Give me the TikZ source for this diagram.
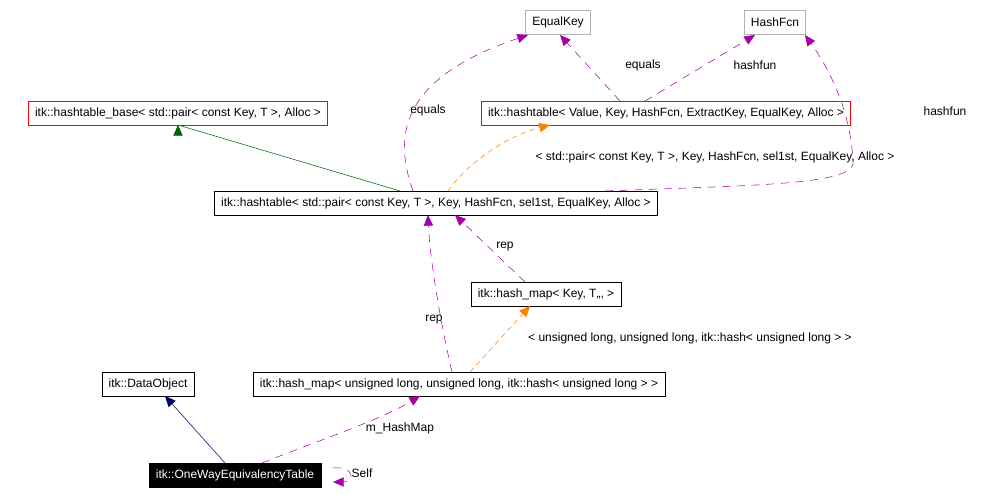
\documentclass[tikz,border=0pt]{standalone}
\usepackage{fontspec}
\setmainfont{Liberation Sans}
\usetikzlibrary{arrows.meta}
\begin{document}
\begin{tikzpicture}[x=0.75pt,y=-0.75pt,
  box/.style={draw=black,fill=white,minimum height=18pt,inner xsep=5pt,font=\fontsize{9}{10}\selectfont},
  gbox/.style={box,draw=gray!60},
  rbox/.style={box,draw=red},
  tip/.style={-{Triangle[length=8pt,width=7pt]}},
  uses/.style={tip,draw=violet!80!magenta,dash pattern=on 6pt off 5pt,color=violet!70!magenta},
  tmpl/.style={tip,draw=orange,dash pattern=on 4pt off 3pt,color=orange},
  lab/.style={font=\fontsize{9}{10}\selectfont}]
\useasboundingbox (0,0) rectangle (983,495);
\node[gbox] (ek) at (558,22) {EqualKey};
\node[gbox] (hf) at (775,22) {HashFcn};
\node[rbox] (base) at (178,113) {itk::hashtable\_base< std::pair< const Key, T >, Alloc >};
\node[rbox] (ht) at (666,113) {itk::hashtable< Value, Key, HashFcn, ExtractKey, EqualKey, Alloc >};
\node[box] (pair) at (436,203) {itk::hashtable< std::pair< const Key, T >, Key, HashFcn, sel1st, EqualKey, Alloc >};
\node[box] (hmk) at (546,294) {itk::hash\_map< Key, T,,, >};
\node[box] (dobj) at (148,384) {itk::DataObject};
\node[box] (hmu) at (459,384) {itk::hash\_map< unsigned long, unsigned long, itk::hash< unsigned long > >};
\node[box,fill=black,text=white] (ow) at (235,475) {itk::OneWayEquivalencyTable};

\draw[tip,draw=green!40!black,color=green!40!black] (400,191) -- (base.south |- 0,125) ++(0,0) coordinate (bt);
\draw[tmpl] (448,191) .. controls (470,160) and (510,135) .. (550,125);
\node[lab] at (715,157) {< std::pair< const Key, T >, Key, HashFcn, sel1st, EqualKey, Alloc >};
\draw[uses] (413,191) .. controls (395,140) and (395,80) .. (528,35);
\node[lab] at (428,110) {equals};
\draw[uses] (620,101) -- (560,35);
\node[lab] at (643,65) {equals};
\draw[uses] (645,101) -- (755,35);
\node[lab] at (755,65) {hashfun};
\draw[uses] (605,191) .. controls (760,185) and (860,185) .. (853,160) .. controls (850,110) and (830,70) .. (805,35);
\node[lab] at (945,111) {hashfun};
\draw[uses] (525,282) -- (455,215);
\node[lab] at (505,247) {rep};
\draw[uses] (452,372) .. controls (440,320) and (430,260) .. (428,215);
\node[lab] at (434,320) {rep};
\draw[tmpl] (470,372) -- (530,306);
\node[lab] at (690,338) {< unsigned long, unsigned long, itk::hash< unsigned long > >};
\draw[tip,draw=blue!40!black,color=blue!40!black] (225,463) -- (165,396);
\draw[uses] (262,463) .. controls (320,440) and (380,420) .. (420,396);
\node[lab] at (400,428) {m\_HashMap};
\draw[uses] (333,468) .. controls (355,466) and (355,482) .. (333,482);
\node[lab] at (362,473) {Self};
\end{tikzpicture}
\end{document}
